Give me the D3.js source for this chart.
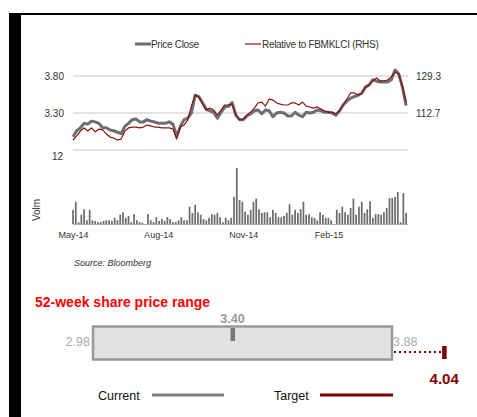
<!DOCTYPE html>
<html>
<head>
<meta charset="utf-8">
<script src="https://cdnjs.cloudflare.com/ajax/libs/d3/7.8.5/d3.min.js"></script>
<style>
  body { margin: 0; background: #fff; }
  svg { display: block; font-family: "Liberation Sans", Arial, sans-serif; }
  .axis path, .axis line { display: none; }
</style>
</head>
<body>
<div id="chart"></div>
<script>
// price series, one reading every 4 days from 1 May 2014
const priceStart = new Date(2014, 4, 1);
const priceStepDays = 4;
const priceClose = [2.98, 3.06, 3.10, 3.16, 3.15, 3.19, 3.18, 3.16, 3.10, 3.10,
  3.07, 3.06, 3.04, 3.02, 3.12, 3.16, 3.21, 3.22, 3.18, 3.18,
  3.21, 3.19, 3.18, 3.16, 3.16, 3.16, 3.18, 3.15, 2.99, 3.12,
  3.21, 3.23, 3.30, 3.54, 3.52, 3.44, 3.35, 3.33, 3.31, 3.23,
  3.31, 3.38, 3.39, 3.44, 3.27, 3.21, 3.21, 3.26, 3.29, 3.33,
  3.34, 3.29, 3.34, 3.33, 3.25, 3.30, 3.31, 3.30, 3.26, 3.26,
  3.31, 3.27, 3.25, 3.31, 3.30, 3.31, 3.34, 3.33, 3.31, 3.31,
  3.30, 3.27, 3.33, 3.41, 3.46, 3.50, 3.52, 3.54, 3.57, 3.65,
  3.68, 3.75, 3.73, 3.72, 3.72, 3.72, 3.75, 3.88, 3.83, 3.65, 3.40];
const relativeKlci = [100.6, 102.4, 104.6, 106.0, 104.6, 106.0, 104.2, 105.5, 105.1, 103.3,
  101.9, 101.5, 100.6, 101.0, 104.6, 106.0, 106.4, 106.4, 106.0, 106.4,
  107.3, 106.9, 106.4, 106.4, 106.0, 106.0, 106.0, 105.5, 101.0, 106.4,
  107.3, 109.6, 115.8, 120.8, 119.9, 116.7, 114.0, 114.9, 114.0, 111.8,
  114.0, 116.3, 116.3, 116.7, 111.8, 109.6, 110.0, 111.8, 113.1, 114.9,
  117.2, 117.6, 115.8, 119.0, 118.5, 117.2, 116.7, 116.3, 116.3, 117.2,
  117.2, 116.3, 117.6, 115.8, 115.4, 114.9, 115.4, 114.5, 113.6, 113.1,
  113.1, 112.3, 113.6, 116.3, 119.0, 121.7, 121.7, 120.8, 121.2, 124.4,
  125.3, 127.1, 128.4, 127.1, 127.1, 127.5, 128.9, 131.1, 130.2, 124.4, 117.6];

// volume (m shares), one bar every 3 days
const volStepDays = 3;
const volume = [2.3, 3.6, 0.3, 1.5, 2.4, 0.6, 2.3, 0.6, 0.5, 0.3,
  0.3, 0.5, 0.6, 0.6, 0.5, 1.0, 0.6, 1.5, 1.9, 1.0,
  1.3, 0.3, 1.6, 0.6, 0.3, 0.2, 0.0, 1.6, 0.6, 0.3,
  1.1, 0.5, 0.8, 0.5, 1.1, 0.8, 0.3, 0.3, 0.6, 1.1,
  0.6, 0.6, 2.8, 1.8, 3.1, 1.9, 1.5, 0.8, 0.6, 1.0,
  1.6, 1.5, 1.8, 1.1, 0.3, 1.0, 0.6, 1.0, 4.4, 9.1,
  3.9, 3.6, 2.0, 1.5, 2.3, 3.6, 4.1, 2.4, 1.8, 1.9,
  1.9, 1.1, 2.3, 1.8, 1.1, 1.1, 1.3, 1.8, 3.2, 1.5,
  2.3, 1.8, 2.4, 3.6, 1.5, 1.6, 1.1, 1.0, 0.6, 1.9,
  1.5, 1.0, 1.0, 0.6, 0.0, 2.3, 1.8, 2.8, 1.9, 1.5,
  2.6, 4.1, 1.5, 2.8, 3.6, 1.8, 2.4, 3.7, 1.0, 1.6,
  1.6, 1.5, 1.9, 2.6, 4.2, 4.2, 4.4, 5.2, 0.3, 5.0, 1.8];

const monthTicks = ["2014-05-01", "2014-08-01", "2014-11-01", "2015-02-01"];
const priceTicks = [3.30, 3.80];
const relTicks = [112.7, 129.3];
const volTicks = [12];

// 52-week range panel
const rangeLow = 2.98, rangeHigh = 3.88, currentPrice = 3.40, targetPrice = 4.04;

const W = 477, H = 417;
const svg = d3.select("#chart").append("svg").attr("width", W).attr("height", H);

// frame
svg.append("rect").attr("x", 9).attr("y", 13).attr("width", 12).attr("height", H - 13).attr("fill", "#000");
svg.append("rect").attr("x", 9).attr("y", 13).attr("width", W - 9).attr("height", 2).attr("fill", "#000");

const parse = d3.timeParse("%Y-%m-%d");
const x = d3.scaleTime().domain([parse("2014-05-01"), parse("2015-04-28")]).range([73, 408]);
const yPrice = d3.scaleLinear().domain([2.8, 3.8]).range([150, 76]);
const yRel = d3.scaleLinear().domain([96.1, 129.3]).range([150, 76]);
const yVol = d3.scaleLinear().domain([0, 12]).range([224, 150]);

const priceData = priceClose.map((v, i) => ({date: d3.timeDay.offset(priceStart, i * priceStepDays), price: v, rel: relativeKlci[i]}));
const volData = volume.map((v, i) => ({date: d3.timeDay.offset(priceStart, i * volStepDays), vol: v}));

// gridlines
svg.append("g").selectAll("line").data([2.8, 3.3, 3.8]).join("line")
  .attr("x1", 73).attr("x2", 408)
  .attr("y1", d => yPrice(d)).attr("y2", d => yPrice(d))
  .attr("stroke", "#d9d9d9").attr("stroke-width", 1.5);

// volume bars
const barW = (x(d3.timeDay.offset(priceStart, volStepDays)) - x(priceStart)) * 0.62;
svg.append("line").attr("x1", 73).attr("x2", 408).attr("y1", 224.5).attr("y2", 224.5)
  .attr("stroke", "#8a9bb5").attr("stroke-width", 0.8);
svg.append("g").selectAll("rect").data(volData).join("rect")
  .attr("x", d => x(d.date) - barW / 2)
  .attr("y", d => yVol(d.vol))
  .attr("width", barW)
  .attr("height", d => yVol(0) - yVol(d.vol))
  .attr("fill", "#6b6b6b");

// lines
const priceLine = d3.line().x(d => x(d.date)).y(d => yPrice(d.price));
const relLine = d3.line().x(d => x(d.date)).y(d => yRel(d.rel));
svg.append("path").datum(priceData).attr("d", priceLine)
  .attr("fill", "none").attr("stroke", "#6d6e71").attr("stroke-width", 3).attr("stroke-linejoin", "round");
svg.append("path").datum(priceData).attr("d", relLine)
  .attr("fill", "none").attr("stroke", "#8b1010").attr("stroke-width", 1.2).attr("stroke-linejoin", "round");

// axes
const fontCol = "#333";
const gLeft = svg.append("g").attr("class", "axis").attr("transform", "translate(73,0)")
  .call(d3.axisLeft(yPrice).tickValues(priceTicks).tickFormat(d3.format(".2f")).tickSize(0).tickPadding(9));
gLeft.selectAll("text").attr("font-size", 10).attr("fill", fontCol).attr("font-family", "Liberation Sans");

const gRight = svg.append("g").attr("class", "axis").attr("transform", "translate(408,0)")
  .call(d3.axisRight(yRel).tickValues(relTicks).tickFormat(d3.format(".1f")).tickSize(0).tickPadding(8));
gRight.selectAll("text").attr("font-size", 10).attr("fill", fontCol).attr("font-family", "Liberation Sans");

const gVol = svg.append("g").attr("class", "axis").attr("transform", "translate(73,0)")
  .call(d3.axisLeft(yVol).tickValues(volTicks).tickSize(0).tickPadding(10));
gVol.selectAll("text").attr("font-size", 10).attr("fill", fontCol).attr("y", 6).attr("font-family", "Liberation Sans");

const gX = svg.append("g").attr("class", "axis").attr("transform", "translate(0,232)")
  .call(d3.axisBottom(x).tickValues(monthTicks.map(parse)).tickFormat(d3.timeFormat("%b-%y")).tickSize(0).tickPadding(0));
gX.selectAll("text").attr("font-size", 9).attr("fill", fontCol).attr("dy", "0.71em").attr("font-family", "Liberation Sans");

svg.append("text").attr("transform", "translate(40,210) rotate(-90)")
  .attr("text-anchor", "middle").attr("font-size", 10).attr("fill", fontCol).text("Volm");

svg.append("text").attr("x", 74).attr("y", 266).attr("font-size", 9).attr("font-style", "italic")
  .attr("fill", fontCol).text("Source: Bloomberg");

// legend
const leg = svg.append("g").attr("font-size", 10).attr("fill", fontCol).attr("letter-spacing", -0.3);
leg.append("line").attr("x1", 135).attr("x2", 151).attr("y1", 44).attr("y2", 44).attr("stroke", "#6d6e71").attr("stroke-width", 3);
leg.append("text").attr("x", 151).attr("y", 47.5).text("Price Close");
leg.append("line").attr("x1", 245).attr("x2", 261).attr("y1", 44).attr("y2", 44).attr("stroke", "#8b1010").attr("stroke-width", 1.2);
leg.append("text").attr("x", 262).attr("y", 47.5).text("Relative to FBMKLCI (RHS)");

// 52-week range
svg.append("text").attr("x", 35).attr("y", 307).attr("font-size", 14).attr("font-weight", "bold")
  .attr("fill", "#ff0000").text("52-week share price range");

const xr = d3.scaleLinear().domain([rangeLow, rangeHigh]).range([93, 392]);
svg.append("rect").attr("x", xr(rangeLow)).attr("y", 326.5)
  .attr("width", xr(rangeHigh) - xr(rangeLow)).attr("height", 33)
  .attr("fill", "#e1e1e3").attr("stroke", "#999").attr("stroke-width", 2.5);

svg.append("rect").attr("x", xr(currentPrice) - 2).attr("y", 328).attr("width", 4.5).attr("height", 13).attr("fill", "#777");
svg.append("text").attr("x", xr(currentPrice)).attr("y", 323).attr("text-anchor", "middle")
  .attr("font-size", 12.5).attr("font-weight", "bold").attr("fill", "#999").text(currentPrice.toFixed(2));

svg.append("text").attr("x", xr(rangeLow) - 3).attr("y", 346).attr("text-anchor", "end")
  .attr("font-size", 12.5).attr("fill", "#aaa").text(rangeLow.toFixed(2));
svg.append("text").attr("x", xr(rangeHigh) + 1).attr("y", 346)
  .attr("font-size", 12.5).attr("fill", "#aaa").text(rangeHigh.toFixed(2));

svg.append("line").attr("x1", xr(rangeHigh) + 2).attr("x2", xr(targetPrice) - 4).attr("y1", 352).attr("y2", 352)
  .attr("stroke", "#7f0000").attr("stroke-width", 2).attr("stroke-dasharray", "2,3");
svg.append("rect").attr("x", xr(targetPrice) - 3).attr("y", 346).attr("width", 4.5).attr("height", 13).attr("fill", "#7f0000");
svg.append("text").attr("x", xr(targetPrice) - 1).attr("y", 384).attr("text-anchor", "middle")
  .attr("font-size", 15).attr("font-weight", "bold").attr("fill", "#7f0000").text(targetPrice.toFixed(2));

const leg2 = svg.append("g").attr("font-size", 12.5).attr("fill", "#111");
leg2.append("text").attr("x", 98).attr("y", 400).text("Current");
leg2.append("line").attr("x1", 152).attr("x2", 224).attr("y1", 395).attr("y2", 395).attr("stroke", "#808080").attr("stroke-width", 3);
leg2.append("text").attr("x", 274).attr("y", 400).text("Target");
leg2.append("line").attr("x1", 320).attr("x2", 393).attr("y1", 395).attr("y2", 395).attr("stroke", "#7f0000").attr("stroke-width", 3);
</script>
</body>
</html>
